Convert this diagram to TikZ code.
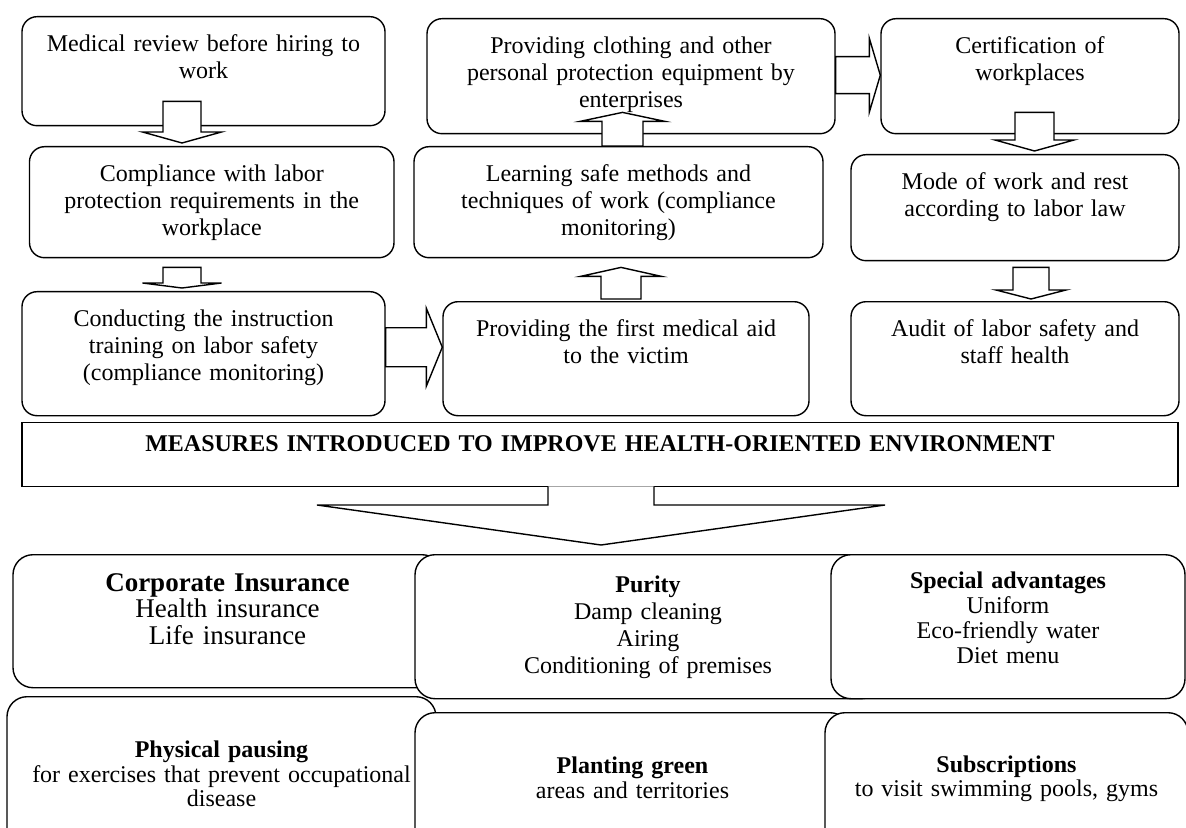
\documentclass[tikz,border=0pt]{standalone}
\usepackage{fontspec}
\setmainfont{Liberation Serif}
\usetikzlibrary{calc}
\tikzset{
  topbox/.style={draw=black, fill=white, line width=0.7pt, rounded corners=7.5pt, align=center, inner sep=0pt, anchor=north, text height=17.5pt, font=\fontsize{12pt}{13.5pt}\selectfont},
  lowbox/.style={draw=black, fill=white, line width=0.7pt, rounded corners=10pt, align=center, inner sep=0pt, anchor=north},
  banner/.style={draw=black, fill=white, line width=0.7pt, align=center, inner sep=0pt, anchor=north, font=\fontsize{12pt}{13.5pt}\selectfont\bfseries},
  fatline/.style={draw=black, fill=white, line width=0.7pt}
}
\newcommand{\fatarrow}[6]{%
  \filldraw[fatline] ($(#1)!#3!90:(#2)$) -- ($(#2)!#5!(#1)!#3!90:(#2)$)
    -- ($(#2)!#5!(#1)!#4!90:(#2)$) -- (#2)
    -- ($(#2)!#5!(#1)!#4!-90:(#2)$) -- ($(#2)!#5!(#1)!#3!-90:(#2)$)
    -- ($(#1)!#3!-90:(#2)$) #6;}
\begin{document}
\begin{tikzpicture}[x=0.5pt,y=-0.5pt]
\path[use as bounding box,clip] (0,0) rectangle (1186,828);
\node[topbox, text width=181.5pt, text depth=37pt] (med) at (203.5,16) {Medical review before hiring to\\work};
\node[topbox, text width=182.25pt, text depth=38pt] (comp) at (211.75,146) {Compliance with labor\\protection requirements in the\\workplace};
\node[topbox, text width=181.5pt, text depth=44.5pt] (cond) at (203.5,291) {Conducting the instruction\\training on labor safety\\(compliance monitoring)};
\node[topbox, text width=204pt, text depth=40pt] (cloth) at (631,18) {Providing clothing and other\\personal protection equipment by\\enterprises};
\node[topbox, text width=204.5pt, text depth=38pt] (learn) at (618.5,146) {Learning safe methods and\\techniques of work (compliance\\monitoring)};
\node[topbox, text width=183pt, text depth=39.5pt] (aid) at (626,301) {Providing the first medical aid\\to the victim};
\node[topbox, text width=149pt, text depth=40pt] (cert) at (1030,18) {Certification of\\workplaces};
\node[topbox, text width=164pt, text depth=35.5pt] (mode) at (1015,154) {Mode of work and rest\\according to labor law};
\node[topbox, text width=164pt, text depth=39.5pt] (audit) at (1015,301) {Audit of labor safety and\\staff health};
\node[banner, text width=578pt, text height=14.5pt, text depth=17.5pt] (meas) at (600,422) {MEASURES INTRODUCED TO IMPROVE HEALTH-ORIENTED ENVIRONMENT};
\node[lowbox, text width=214.5pt, text height=18.25pt, text depth=48.25pt, font=\fontsize{13.5pt}{13.3pt}\selectfont] (corp) at (227.5,554) {\textbf{Corporate Insurance}\\Health insurance\\Life insurance};
\node[lowbox, text width=233pt, text height=19pt, text depth=53pt, font=\fontsize{12pt}{13.5pt}\selectfont] (purity) at (648,554) {\textbf{Purity}\\Damp cleaning\\Airing\\Conditioning of premises};
\node[lowbox, text width=177pt, text height=17pt, text depth=55pt, font=\fontsize{12pt}{12.5pt}\selectfont] (special) at (1008,554) {\textbf{Special advantages}\\Uniform\\Eco-friendly water\\Diet menu};
\node[lowbox, text width=214.5pt, text height=30.5pt, text depth=49.5pt, font=\fontsize{12pt}{12.2pt}\selectfont] (phys) at (221.5,696) {\textbf{Physical pausing}\\for exercises that prevent occupational\\disease};
\node[lowbox, text width=217.5pt, text height=30.5pt, text depth=38.5pt, font=\fontsize{12pt}{12.5pt}\selectfont] (plant) at (632.5,712) {\textbf{Planting green}\\areas and territories};
\node[lowbox, text width=181.5pt, text height=30pt, text depth=39pt, font=\fontsize{12pt}{12pt}\selectfont] (subs) at (1006.5,712) {\textbf{Subscriptions}\\to visit swimming pools, gyms};
\coordinate (m1) at ($(med.south)+(-21.5,-25)$);
\coordinate (m2) at ($(m1 |- comp.north)+(0,-3)$);
\coordinate (c1) at ($(comp.south)+(-29.75,9)$);
\coordinate (c2) at ($(c1 |- cond.north)+(0,-3)$);
\coordinate (d1) at ($(cond.east)+(0,-6.5)$);
\coordinate (d2) at (d1 -| aid.west);
\coordinate (f1) at ($(aid.north)+(-5,-2)$);
\coordinate (f2) at ($(f1 |- learn.south)+(0,9)$);
\coordinate (e1) at ($(learn.north)+(4,0)$);
\coordinate (e2) at ($(e1 |- cloth.south)+(0,-22)$);
\coordinate (g1) at ($(cloth.east)+(0,-1)$);
\coordinate (g2) at (g1 -| cert.west);
\coordinate (h1) at ($(cert.south)+(4.5,-22)$);
\coordinate (h2) at ($(h1 |- mode.north)+(0,-3)$);
\coordinate (i1) at ($(mode.south)+(16,6)$);
\coordinate (i2) at ($(i1 |- audit.north)+(0,-2)$);
\coordinate (b1) at ($(meas.south)+(1,-1)$);
\coordinate (b2) at ($(b1 |- purity.north)+(0,-9)$);
\fatarrow{m1}{m2}{9.5pt}{19.75pt}{5.5pt}{-- cycle}
\fatarrow{c1}{c2}{9.5pt}{19.75pt}{2.5pt}{-- cycle}
\fatarrow{d1}{d2}{9.75pt}{19.5pt}{8pt}{-- cycle}
\fatarrow{f1}{f2}{10pt}{20.25pt}{4.5pt}{-- cycle}
\fatarrow{e1}{e2}{10.25pt}{21.25pt}{4.5pt}{-- cycle}
\fatarrow{g1}{g2}{9.25pt}{18.5pt}{5.5pt}{-- cycle}
\fatarrow{h1}{h2}{9.75pt}{19.75pt}{5.5pt}{-- cycle}
\fatarrow{i1}{i2}{9pt}{17.5pt}{4.5pt}{-- cycle}
\fatarrow{b1}{b2}{26.5pt}{142pt}{20pt}{}
\end{tikzpicture}
\end{document}
